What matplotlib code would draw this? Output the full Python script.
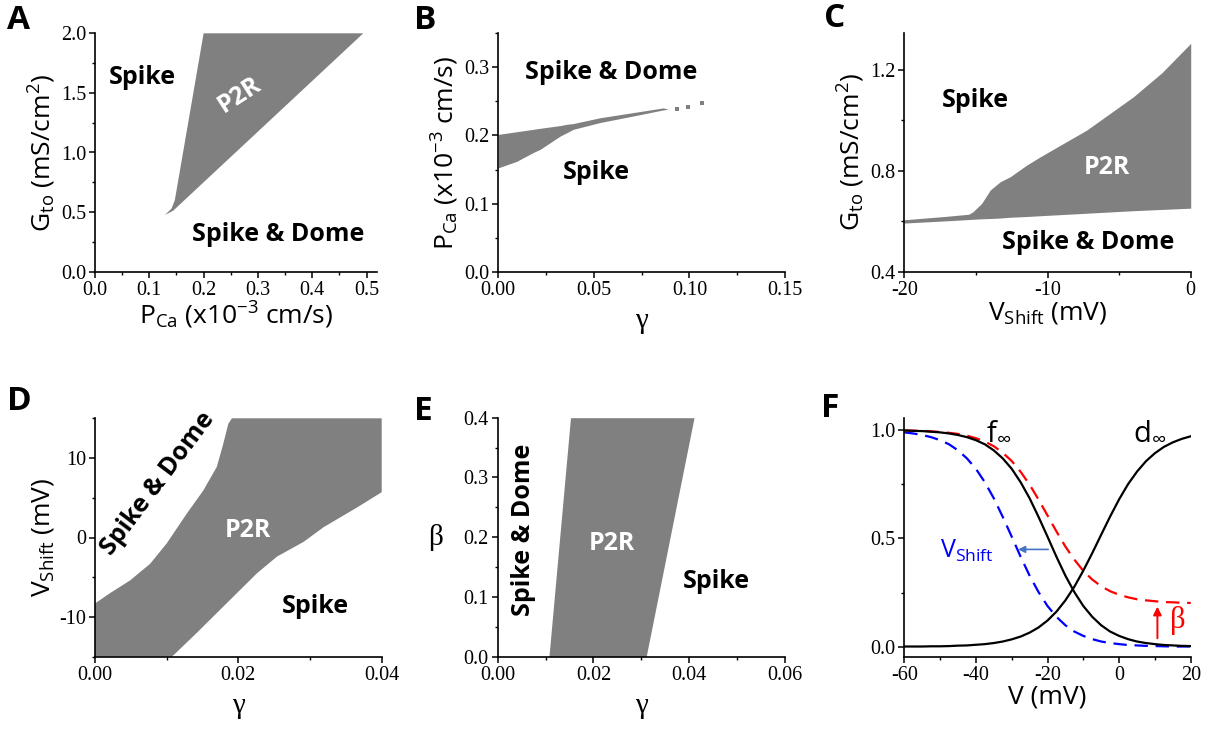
import numpy as np
import matplotlib
matplotlib.use("Agg")
import matplotlib.pyplot as plt
from matplotlib.ticker import MultipleLocator, FormatStrFormatter

# serif for tick numbers and greek axis labels, sans for everything else
plt.rcParams['font.family'] = 'serif'
plt.rcParams['font.serif'] = ['Liberation Serif', 'DejaVu Serif']
plt.rcParams['mathtext.fontset'] = 'custom'
plt.rcParams['mathtext.rm'] = 'Open Sans'
plt.rcParams['mathtext.it'] = 'Open Sans:italic'
plt.rcParams['mathtext.bf'] = 'Open Sans:bold'
plt.rcParams['axes.unicode_minus'] = False

SANS = ['Open Sans', 'DejaVu Sans']
GRAY = '#808080'

# ---- A: Gto vs PCa, P2R region outline ----
a_pca = [0.129, 0.141, 0.147, 0.200, 0.494, 0.144]
a_gto = [0.476, 0.530, 0.600, 2.000, 2.000, 0.512]

# ---- B: PCa vs gamma, band edges + sparse points at the tip ----
b_gamma = [0.0, 0.0096, 0.0183, 0.0218, 0.0323, 0.0358, 0.0392, 0.0532, 0.0706, 0.0863, 0.0889]
b_upper = [0.2016, 0.2055, 0.209, 0.2105, 0.2145, 0.2164, 0.2175, 0.226, 0.2336, 0.2405, 0.2385]
b_lower = [0.1525, 0.162, 0.175, 0.1795, 0.199, 0.204, 0.209, 0.219, 0.2286, 0.2375, 0.2385]
b_dots_gamma = [0.0933, 0.0994, 0.1067]
b_dots_pca = [0.2385, 0.2425, 0.247]

# ---- C: Gto vs Vshift ----
c_vshift = [-20, -17, -15.5, -15.2, -14.6, -14.0, -13.3, -12.6, -11.45, -10.5, -7.26, -4.0, -2.0, 0]
c_upper = [0.606, 0.620, 0.628, 0.638, 0.671, 0.724, 0.757, 0.777, 0.823, 0.856, 0.962, 1.094, 1.19, 1.306]
c_lower = [0.593, 0.602, 0.607, 0.608, 0.610, 0.611, 0.613, 0.616, 0.619, 0.622, 0.632, 0.642, 0.647, 0.652]

# ---- D: Vshift vs gamma, P2R polygon (left boundary then right boundary) ----
d_left_gamma = [0.0, 0.0, 0.0021, 0.0049, 0.0077, 0.0100, 0.0128, 0.0151, 0.0170, 0.0179, 0.0186, 0.0191]
d_left_v = [-15, -8.3, -7.0, -5.4, -3.3, -0.75, 3.0, 5.9, 8.9, 11.8, 14.3, 15]
d_right_gamma = [0.040, 0.040, 0.0366, 0.0319, 0.0291, 0.0254, 0.0226, 0.0198, 0.0170, 0.0142, 0.0112, 0.0107]
d_right_v = [15, 5.7, 3.8, 1.3, -0.55, -2.4, -4.5, -7.0, -9.5, -12.0, -14.6, -15]

# ---- E: beta vs gamma ----
e_beta = [0.0, 0.4]
e_left = [0.0107, 0.0152]
e_right = [0.0310, 0.0410]

# ---- F: gating curves ----
f_v = [-60, -57.5, -55, -52.5, -50, -47.5, -45, -42.5, -40, -37.5, -35, -32.5, -30,
       -27.5, -25, -22.5, -20, -17.5, -15, -12.5, -10, -7.5, -5, -2.5, 0,
       2.5, 5, 7.5, 10, 12.5, 15, 17.5, 20]
f_inf = [0.998, 0.996, 0.995, 0.992, 0.989, 0.984, 0.977, 0.967, 0.953, 0.934, 0.906,
         0.869, 0.821, 0.759, 0.685, 0.599, 0.508, 0.415, 0.328, 0.252, 0.188, 0.138,
         0.099, 0.070, 0.050, 0.035, 0.024, 0.017, 0.012, 0.008, 0.006, 0.004, 0.003]
d_inf = [0.001, 0.001, 0.001, 0.002, 0.002, 0.003, 0.005, 0.006, 0.009, 0.012, 0.017,
         0.024, 0.034, 0.047, 0.065, 0.089, 0.121, 0.162, 0.214, 0.277, 0.351, 0.432,
         0.517, 0.601, 0.680, 0.750, 0.808, 0.856, 0.893, 0.922, 0.943, 0.959, 0.971]
f_beta = [0.998, 0.997, 0.996, 0.994, 0.991, 0.987, 0.982, 0.974, 0.962, 0.947, 0.925,
          0.895, 0.857, 0.807, 0.748, 0.679, 0.606, 0.532, 0.462, 0.402, 0.350, 0.310,
          0.279, 0.256, 0.240, 0.228, 0.219, 0.214, 0.210, 0.206, 0.205, 0.203, 0.202]
f_shift = [0.989, 0.984, 0.977, 0.967, 0.953, 0.934, 0.906, 0.869, 0.821, 0.759, 0.685,
           0.599, 0.508, 0.415, 0.328, 0.252, 0.188, 0.138, 0.099, 0.070, 0.050, 0.035,
           0.024, 0.017, 0.012, 0.008, 0.006, 0.004, 0.003, 0.002, 0.001, 0.001, 0.001]


def style(ax, xlim, ylim, xmaj, xmin, ymaj, ymin, xfmt, yfmt):
    ax.set_xlim(*xlim)
    ax.set_ylim(*ylim)
    ax.xaxis.set_major_locator(MultipleLocator(xmaj))
    ax.xaxis.set_minor_locator(MultipleLocator(xmin))
    ax.yaxis.set_major_locator(MultipleLocator(ymaj))
    ax.yaxis.set_minor_locator(MultipleLocator(ymin))
    ax.xaxis.set_major_formatter(FormatStrFormatter(xfmt))
    ax.yaxis.set_major_formatter(FormatStrFormatter(yfmt))
    for s in ['top', 'right']:
        ax.spines[s].set_visible(False)
    for s in ['left', 'bottom']:
        ax.spines[s].set_linewidth(1.2)
    ax.tick_params(which='major', direction='out', length=4.5, width=1.1,
                   labelsize=14.5, pad=2)
    ax.tick_params(which='minor', direction='out', length=2.5, width=1.0)


fig = plt.figure(figsize=(12.09, 7.30), dpi=100)
W, H = 1209.0, 730.0


def axes_px(left, top, right, bottom):
    return fig.add_axes([left / W, 1 - bottom / H, (right - left) / W, (bottom - top) / H])


bold = dict(fontsize=18, fontweight='bold', ha='center', va='center', fontfamily=SANS)
white = dict(bold, color='white')
lab = dict(fontsize=19, fontfamily=SANS)
greek = dict(fontsize=21)

pca_label = r'P$_{\mathregular{Ca}}$ (x10$^{\mathregular{-3}}$ cm/s)'
gto_label = r'G$_{\mathregular{to}}$ (mS/cm$^{\mathregular{2}}$)'
vs_label = r'V$_{\mathregular{Shift}}$ (mV)'

# A
ax = axes_px(95, 33.3, 377.4, 271.7)
ax.fill(a_pca, a_gto, color=GRAY, lw=0)
style(ax, (0, 0.52), (0, 2.0), 0.1, 0.05, 0.5, 0.25, '%.1f', '%.1f')
ax.set_xlabel(pca_label, labelpad=0, **lab)
ax.set_ylabel(gto_label, labelpad=2, **lab)
ax.text(0.088, 1.625, 'Spike', **bold)
ax.text(0.337, 0.308, 'Spike & Dome', **bold)
ax.text(0.267, 1.48, 'P2R', rotation=33, **white)

# B
ax = axes_px(498.3, 33.3, 785, 271.7)
ax.fill_between(b_gamma, b_lower, b_upper, color=GRAY, lw=0)
ax.scatter(b_dots_gamma, b_dots_pca, marker='s', s=7, color=GRAY, lw=0)
style(ax, (0, 0.15), (0, 0.35), 0.05, 0.025, 0.1, 0.05, '%.2f', '%.1f')
ax.set_xlabel('γ', labelpad=6, **greek)
ax.set_ylabel(pca_label, labelpad=2, **lab)
ax.text(0.0593, 0.293, 'Spike & Dome', **bold)
ax.text(0.0515, 0.1456, 'Spike', **bold)

# C
ax = axes_px(904.3, 33.0, 1190.7, 271.7)
ax.fill_between(c_vshift, c_lower, c_upper, color=GRAY, lw=0)
style(ax, (-20, 0), (0.4, 1.347), 10, 5, 0.4, 0.2, '%d', '%.1f')
ax.set_xlabel(vs_label, labelpad=0, **lab)
ax.set_ylabel(gto_label, labelpad=2, **lab)
ax.text(-15.06, 1.081, 'Spike', **bold)
ax.text(-5.84, 0.815, 'P2R', **white)
ax.text(-7.17, 0.514, 'Spike & Dome', **bold)

# D
ax = axes_px(95, 418.3, 381.7, 656.7)
ax.fill(d_left_gamma + d_right_gamma, d_left_v + d_right_v, color=GRAY, lw=0)
style(ax, (0, 0.04), (-15, 15), 0.02, 0.01, 10, 5, '%.2f', '%d')
ax.set_xlabel('γ', labelpad=6, **greek)
ax.set_ylabel(vs_label, labelpad=2, **lab)
ax.text(0.0088, 6.8, 'Spike & Dome', rotation=53, **bold)
ax.text(0.0213, 0.9, 'P2R', **white)
ax.text(0.0308, -8.7, 'Spike', **bold)

# E
ax = axes_px(497.7, 417.7, 785, 656.7)
ax.fill_betweenx(e_beta, e_left, e_right, color=GRAY, lw=0)
style(ax, (0, 0.06), (0, 0.4), 0.02, 0.01, 0.1, 0.05, '%.2f', '%.1f')
ax.set_xlabel('γ', labelpad=6, **greek)
ax.set_ylabel('β', rotation=0, va='center', labelpad=20, **greek)
ax.text(0.00534, 0.212, 'Spike & Dome', rotation=90, **bold)
ax.text(0.0238, 0.190, 'P2R', **white)
ax.text(0.0457, 0.1255, 'Spike', **bold)

# F
ax = axes_px(904.3, 418.3, 1190.7, 656.7)
ax.plot(f_v, f_shift, color='#0000ff', lw=1.6, dashes=(6, 3.5))
ax.plot(f_v, f_beta, color='#ff0000', lw=1.6, dashes=(6, 3.5))
ax.plot(f_v, f_inf, color='black', lw=1.6)
ax.plot(f_v, d_inf, color='black', lw=1.6)
style(ax, (-60, 20), (-0.046, 1.054), 20, 10, 0.5, 0.25, '%d', '%.1f')
ax.set_xlabel('V (mV)', labelpad=0, **lab)
ax.text(-33.7, 0.995, r'f$_{\infty}$', fontsize=21, ha='center', va='center', fontfamily=SANS)
ax.text(8.6, 0.998, r'd$_{\infty}$', fontsize=21, ha='center', va='center', fontfamily=SANS)
ax.text(-42.4, 0.44, r'V$_{\mathregular{Shift}}$', fontsize=18, color='#0000ff',
        ha='center', va='center', fontfamily=SANS)
ax.annotate('', xy=(-28.2, 0.449), xytext=(-19.8, 0.449),
            arrowprops=dict(arrowstyle='-|>', color='#4472c4', lw=1.2,
                            mutation_scale=10, shrinkA=0, shrinkB=0))
ax.annotate('', xy=(10.7, 0.185), xytext=(10.7, 0.039),
            arrowprops=dict(arrowstyle='-|>', color='#ff0000', lw=1.4,
                            mutation_scale=12, shrinkA=0, shrinkB=0))
ax.text(16.3, 0.123, 'β', fontsize=22, color='#ff0000', ha='center', va='center')

# panel letters
for letter, x, y in [('A', 7, 4), ('B', 414, 4), ('C', 824, 2),
                     ('D', 7, 385), ('E', 414, 395), ('F', 821, 392)]:
    fig.text(x / W, 1 - y / H, letter, fontsize=24, fontweight='bold',
             ha='left', va='top', fontfamily=SANS)

fig.savefig('out.png', dpi=100)
